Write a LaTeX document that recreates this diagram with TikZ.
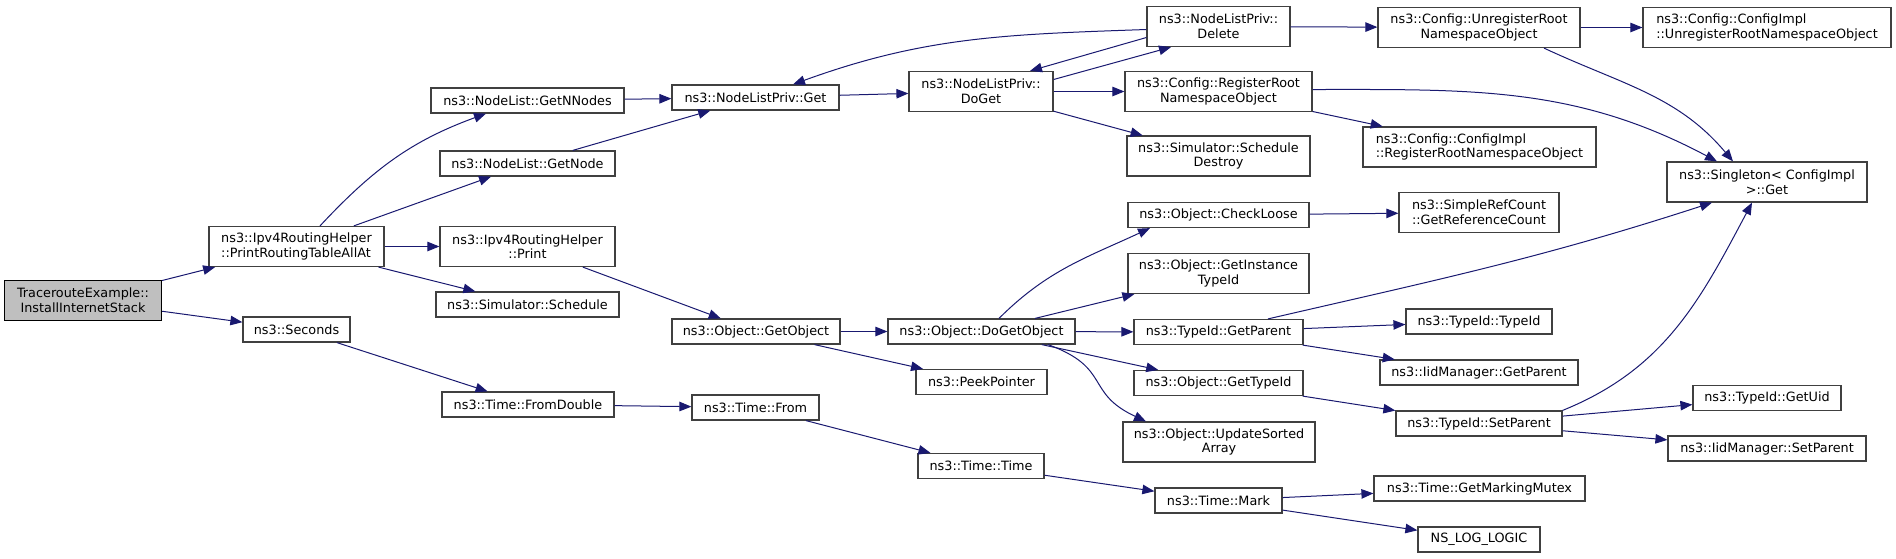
\documentclass[tikz,border=0pt]{standalone}
\usepackage{fontspec}
\setmainfont{DejaVu Sans}
\usepackage{xcolor}
\usepackage{tikz}
\usetikzlibrary{arrows.meta, calc}

\definecolor{edgeblue}{RGB}{25,25,112}
\definecolor{boxline}{RGB}{64,64,64}
\definecolor{rootfill}{RGB}{191,191,191}

\begin{document}
\begin{tikzpicture}[
    x=1pt, y=1pt,
    func/.style={
        rectangle,
        draw=boxline,
        line width=1.2pt,
        fill=white,
        inner sep=2pt,
        align=center,
        minimum height=25pt,
        font=\fontsize{12.8}{14.7}\selectfont
    },
    twoline/.style={func, minimum height=40pt},
    root/.style={twoline, fill=rootfill, draw=black},
    arrow/.style={-{Triangle[length=12pt, width=9.5pt]}, draw=edgeblue, line width=1pt}
]

    \useasboundingbox (0,0) rectangle (1896,-558);

    % Caller and first level
    \node [root, minimum width=157pt] (install) at (83,-300.5) {TracerouteExample::\\InstallInternetStack};
    \node [twoline, minimum width=175pt, align=left] (printall) at (296.5,-246.5) {ns3::Ipv4RoutingHelper\\::PrintRoutingTableAllAt};
    \node [func, minimum width=107pt] (seconds) at (296.5,-329.5) {ns3::Seconds};

    % Second level
    \node [func, minimum width=193pt] (getnnodes) at (527.5,-100.5) {ns3::NodeList::GetNNodes};
    \node [func, minimum width=175pt] (getnode) at (527.5,-163.5) {ns3::NodeList::GetNode};
    \node [twoline, minimum width=175pt] (print) at (527.5,-246.5) {ns3::Ipv4RoutingHelper\\::Print};
    \node [func, minimum width=183pt] (schedule) at (527.5,-304.5) {ns3::Simulator::Schedule};
    \node [func, minimum width=172pt] (fromdouble) at (528,-404.5) {ns3::Time::FromDouble};

    % Third level
    \node [func, minimum width=167pt] (listget) at (755.5,-97.5) {ns3::NodeListPriv::Get};
    \node [func, minimum width=168pt] (getobject) at (756,-331.5) {ns3::Object::GetObject};
    \node [func, minimum width=127pt] (timefrom) at (755.5,-407.5) {ns3::Time::From};

    % Fourth level
    \node [twoline, minimum width=144pt] (doget) at (981,-91.5) {ns3::NodeListPriv::\\DoGet};
    \node [func, minimum width=187pt] (dogetobject) at (981.5,-331.5) {ns3::Object::DoGetObject};
    \node [func, minimum width=131pt] (peek) at (981.5,-382) {ns3::PeekPointer};
    \node [func, minimum width=126pt] (timetime) at (981,-466) {ns3::Time::Time};

    % Fifth level
    \node [twoline, minimum width=143pt] (delete) at (1218.5,-26.5) {ns3::NodeListPriv::\\Delete};
    \node [twoline, minimum width=187pt] (register) at (1218.5,-91.5) {ns3::Config::RegisterRoot\\NamespaceObject};
    \node [twoline, minimum width=183pt] (destroy) at (1218.5,-156) {ns3::Simulator::Schedule\\Destroy};
    \node [func, minimum width=181pt] (checkloose) at (1218.5,-215) {ns3::Object::CheckLoose};
    \node [twoline, minimum width=181pt] (getinst) at (1218.5,-273.5) {ns3::Object::GetInstance\\TypeId};
    \node [func, minimum width=169pt] (tgetparent) at (1218.5,-332) {ns3::TypeId::GetParent};
    \node [func, minimum width=169pt] (ogettypeid) at (1218.5,-383) {ns3::Object::GetTypeId};
    \node [twoline, minimum width=192pt] (update) at (1219,-442) {ns3::Object::UpdateSorted\\Array};
    \node [func, minimum width=127pt] (mark) at (1218.5,-500.5) {ns3::Time::Mark};

    % Sixth level
    \node [twoline, minimum width=202pt] (unregister) at (1479,-27.5) {ns3::Config::UnregisterRoot\\NamespaceObject};
    \node [twoline, minimum width=233pt, align=left] (cfgreg) at (1479.5,-147) {ns3::Config::ConfigImpl\\::RegisterRootNamespaceObject};
    \node [twoline, minimum width=160pt, align=left] (refcount) at (1479,-212.5) {ns3::SimpleRefCount\\::GetReferenceCount};
    \node [func, minimum width=146pt] (typeid) at (1479,-321.5) {ns3::TypeId::TypeId};
    \node [func, minimum width=198pt] (iidgetparent) at (1479,-372.5) {ns3::IidManager::GetParent};
    \node [func, minimum width=166pt] (setparent) at (1479,-423.5) {ns3::TypeId::SetParent};
    \node [func, minimum width=211pt] (mutex) at (1479.5,-488.5) {ns3::Time::GetMarkingMutex};
    \node [func, minimum width=122pt] (nslog) at (1479,-539.5) {NS\_LOG\_LOGIC};

    % Last level
    \node [twoline, minimum width=248pt, align=left] (cfgunreg) at (1767,-27.5) {ns3::Config::ConfigImpl\\::UnregisterRootNamespaceObject};
    \node [twoline, minimum width=200pt] (singleton) at (1767,-182) {ns3::Singleton< ConfigImpl\\ >::Get};
    \node [func, minimum width=148pt] (getuid) at (1767,-398) {ns3::TypeId::GetUid};
    \node [func, minimum width=198pt] (iidsetparent) at (1767,-448.5) {ns3::IidManager::SetParent};

    % Calls from the root and the routing helper
    \draw [arrow] (install) -- (printall);
    \draw [arrow] (install) -- (seconds);
    \draw [arrow] ($(printall.north)+(23.5,0)$) to[out=47, in=200] ($(getnnodes.south)+(-41.5,0)$);
    \draw [arrow] (printall) -- (getnode);
    \draw [arrow] (printall) -- (print);
    \draw [arrow] (printall) -- (schedule);
    \draw [arrow] (getnnodes) -- (listget);
    \draw [arrow] (getnode) -- (listget);
    \draw [arrow] (print) -- (getobject);
    \draw [arrow] (seconds) -- (fromdouble);
    \draw [arrow] (fromdouble) -- (timefrom);

    % Node list and config calls
    \draw [arrow] (listget) -- (doget);
    \draw [arrow] ($(doget.east)+(0,12)$) -- ($(delete.south)+(-47.5,0)$);
    \draw [arrow] ($(delete.west)+(0,-11)$) -- ($(doget.north)+(49,0)$);
    \draw [arrow] ($(delete.west)+(0,-3)$) to[out=182, in=20] ($(listget.north)+(37.5,0)$);
    \draw [arrow] (doget) -- (register);
    \draw [arrow] (doget) -- (destroy);
    \draw [arrow] (delete) -- (unregister);
    \draw [arrow] (unregister) -- (cfgunreg);
    \draw [arrow] (register) -- (cfgreg);
    \draw [arrow] ($(unregister.south)+(65,0)$) to[out=-25, in=130] ($(singleton.north)+(-34,0)$);
    \draw [arrow] ($(register.east)+(0,2)$) to[out=0, in=152] ($(singleton.north)+(-50,0)$);

    % Object calls
    \draw [arrow] (getobject) -- (dogetobject);
    \draw [arrow] (getobject) -- (peek);
    \draw [arrow] ($(dogetobject.north)+(17.5,0)$) to[out=45, in=205] ($(checkloose.south)+(-68.5,0)$);
    \draw [arrow] (dogetobject) -- (getinst);
    \draw [arrow] (dogetobject) -- (tgetparent);
    \draw [arrow] (dogetobject) -- (ogettypeid);
    \draw [arrow] ($(dogetobject.south)+(66.5,0)$) to[out=-20, in=155, looseness=1.4] ($(update.north)+(-73,0)$);
    \draw [arrow] (checkloose) -- (refcount);

    % TypeId calls
    \draw [arrow] ($(tgetparent.north)+(49.5,0)$) to[out=13, in=198] ($(singleton.south)+(-55,0)$);
    \draw [arrow] (tgetparent) -- (typeid);
    \draw [arrow] (tgetparent) -- (iidgetparent);
    \draw [arrow] (ogettypeid) -- (setparent);
    \draw [arrow] (setparent.north east) to[out=22, in=242] ($(singleton.south)+(-15,0)$);
    \draw [arrow] (setparent) -- (getuid);
    \draw [arrow] (setparent) -- (iidsetparent);

    % Time calls
    \draw [arrow] (timefrom) -- (timetime);
    \draw [arrow] (timetime) -- (mark);
    \draw [arrow] (mark) -- (mutex);
    \draw [arrow] (mark) -- (nslog);

\end{tikzpicture}
\end{document}
